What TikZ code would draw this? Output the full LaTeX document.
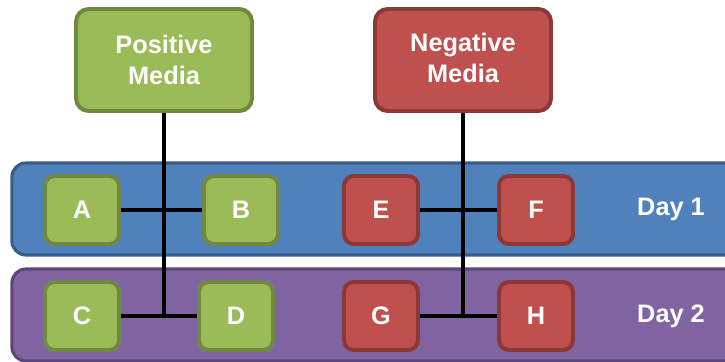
\documentclass[tikz,border=0pt]{standalone}
\usepackage{fontspec}
\setmainfont{Liberation Sans}
\usetikzlibrary{positioning, calc}

\begin{document}
\begin{tikzpicture}[x=0.025cm, y=-0.025cm,
	every node/.style={font=\bfseries\fontsize{18}{21.5}\selectfont, text=white, align=center},
	band/.style={draw, line width=2.2pt, rounded corners=10, minimum width=18.5cm, minimum height=2.3cm},
	media/.style={draw, line width=2.8pt, rounded corners=9, minimum width=4.4cm, minimum height=2.55cm},
	item/.style={draw, line width=2.8pt, rounded corners=7, minimum width=1.85cm, minimum height=1.7cm},
	good/.style={fill=posfill, draw=posline},
	bad/.style={fill=negfill, draw=negline},
	link/.style={line width=2.5pt}]
	\definecolor{posfill}{HTML}{9BBB59}
	\definecolor{posline}{HTML}{71893F}
	\definecolor{negfill}{HTML}{C0504D}
	\definecolor{negline}{HTML}{8C3836}
	\definecolor{dayone}{HTML}{4F81BD}
	\definecolor{dayoneline}{HTML}{385D8A}
	\definecolor{daytwo}{HTML}{8064A2}
	\definecolor{daytwoline}{HTML}{5C4776}
	\useasboundingbox (0,0) rectangle (725,362);
	% days
	\node[band, fill=dayone, draw=dayoneline] (day1) at (382,209) {};
	\node[band, fill=daytwo, draw=daytwoline] (day2) at (382,315) {};
	\node (d1) at (671,209) {Day 1};
	\node (d2) at (671,316) {Day 2};
	% media
	\node[media, good] (pos) at (164,60) {Positive\\Media};
	\node[media, bad] (neg) at (463,60) {\raisebox{3pt}{Negative}\\\raisebox{3pt}{Media}};
	% samples
	\node[item, good] (a) at (82,210) {A};
	\node[item, good] (b) at (241,210) {B};
	\node[item, bad] (e) at (381,210) {E};
	\node[item, bad] (f) at (536,210) {F};
	\node[item, good] (c) at (82,316) {C};
	\node[item, good] (d) at (236,316) {D};
	\node[item, bad] (g) at (381,316) {G};
	\node[item, bad] (h) at (536,316) {H};
	% links
	\draw[link] (a) -- (b);
	\draw[link] (c) -- (d);
	\draw[link] (e) -- (f);
	\draw[link] (g) -- (h);
	\draw[link] (pos.south) -- (pos.south |- c);
	\draw[link] (neg.south) -- (neg.south |- g);
\end{tikzpicture}
\end{document}
